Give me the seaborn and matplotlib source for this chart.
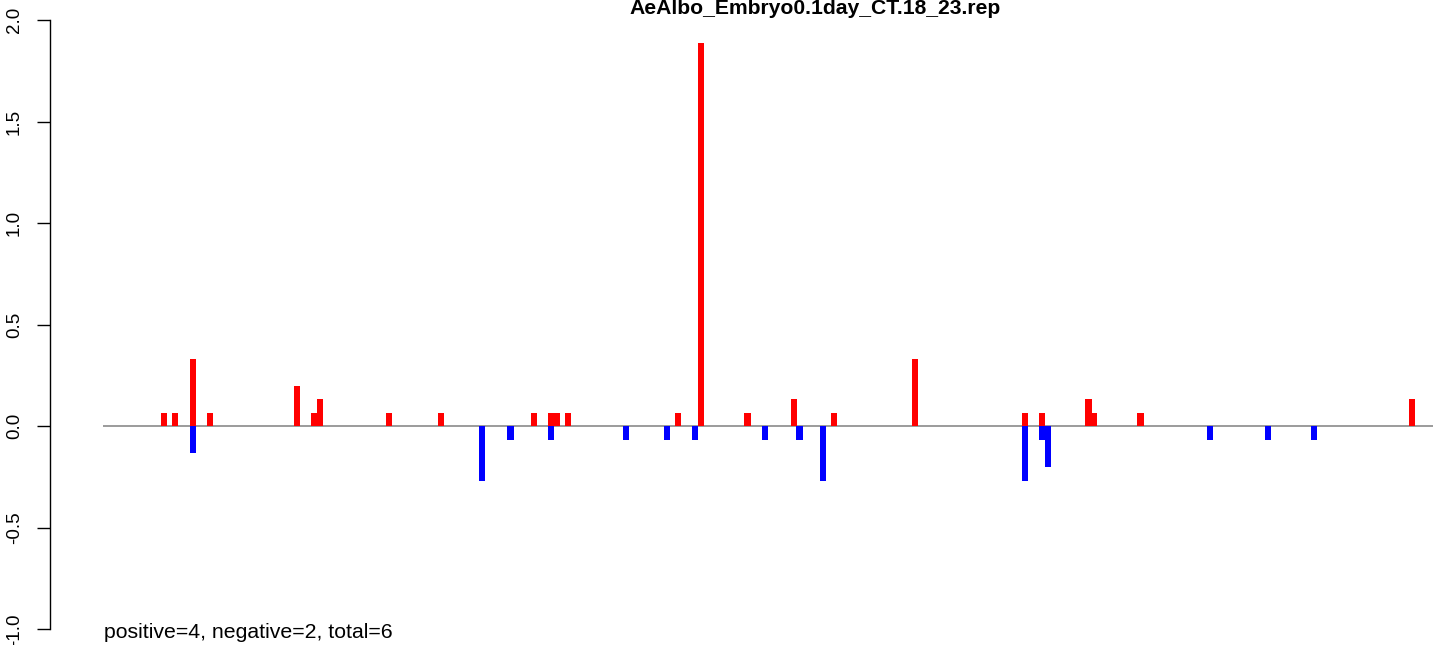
import matplotlib
matplotlib.use("Agg")
import matplotlib.pyplot as plt
import pandas as pd
import seaborn as sns

# ---- data ----
title = "AeAlbo_Embryo0.1day_CT.18_23.rep"
footer = "positive=4, negative=2, total=6"
pos_bins = [10, 12, 15, 18, 33, 36, 37, 49, 58, 74, 77, 78, 80, 99, 103,
            111, 119, 126, 140, 159, 162, 170, 171, 179, 226]
pos_vals = [0.067, 0.067, 0.333, 0.067, 0.2, 0.067, 0.133, 0.067, 0.067,
            0.067, 0.067, 0.067, 0.067, 0.067, 1.89, 0.067, 0.133, 0.067,
            0.333, 0.067, 0.067, 0.133, 0.067, 0.067, 0.133]
neg_bins = [15, 65, 70, 77, 90, 97, 102, 114, 120, 124, 159, 162, 163,
            191, 201, 209]
neg_vals = [-0.133, -0.267, -0.067, -0.067, -0.067, -0.067, -0.067, -0.067,
            -0.067, -0.267, -0.267, -0.067, -0.2, -0.067, -0.067, -0.067]
n_bins = 230
yticks = [-1.0, -0.5, 0.0, 0.5, 1.0, 1.5, 2.0]
ytick_labels = ["-1.0", "-0.5", "0.0", "0.5", "1.0", "1.5", "2.0"]

sns.set_style("white")
plt.rcParams["font.family"] = ["Liberation Sans", "DejaVu Sans"]
plt.rcParams["text.color"] = "black"
plt.rcParams["ytick.color"] = "black"
plt.rcParams["ytick.labelcolor"] = "black"

W, H = 1433, 645
fig = plt.figure(figsize=(W / 100, H / 100), dpi=100)
ax_left, ax_top, ax_bottom = 50, 20.3, 629.3
ax = fig.add_axes([ax_left / W, (H - ax_bottom) / H, (W - ax_left) / W,
                   (ax_bottom - ax_top) / H])

pos_df = pd.DataFrame({"bin": pos_bins, "value": pos_vals})
neg_df = pd.DataFrame({"bin": neg_bins, "value": neg_vals})
pos_df["center"] = pos_df["bin"] + 0.5
neg_df["center"] = neg_df["bin"] + 0.5

# baseline
ax.plot([0, n_bins + 1], [0, 0], color="#808080", lw=1.1, zorder=0,
        solid_capstyle="butt")

sns.barplot(data=pos_df, x="center", y="value", native_scale=True,
            color="#FF0000", saturation=1, width=1.05, errorbar=None,
            linewidth=0, ax=ax)
sns.barplot(data=neg_df, x="center", y="value", native_scale=True,
            color="#0000FF", saturation=1, width=1.05, errorbar=None,
            linewidth=0, ax=ax)

px_per_bin = 5.78
x0_px = 103
ax.set_xlim((ax_left - x0_px) / px_per_bin, (W - x0_px) / px_per_bin)
ax.set_ylim(-1.0, 2.0)

for s in ["top", "right", "bottom"]:
    ax.spines[s].set_visible(False)
ax.spines["left"].set_color("black")
ax.spines["left"].set_linewidth(1.0)
ax.spines["left"].set_bounds(-1.0, 2.0)
ax.set_xticks([])
ax.set_xlabel("")
ax.set_ylabel("")
ax.set_yticks(yticks)
ax.set_yticklabels(ytick_labels, rotation=90, va="center", fontsize=13.5,
                   color="black")
ax.tick_params(axis="y", length=9.4, width=1.0, color="black", pad=10,
               left=True, labelcolor="black")

fig.text(815 / W, 1 - 13.5 / H, title, ha="center", va="baseline",
         fontsize=15.2, fontweight="bold", color="black")
fig.text(104 / W, 7.5 / H, footer, ha="left", va="baseline", fontsize=15.3,
         color="black")

fig.savefig("out.png", dpi=100)
